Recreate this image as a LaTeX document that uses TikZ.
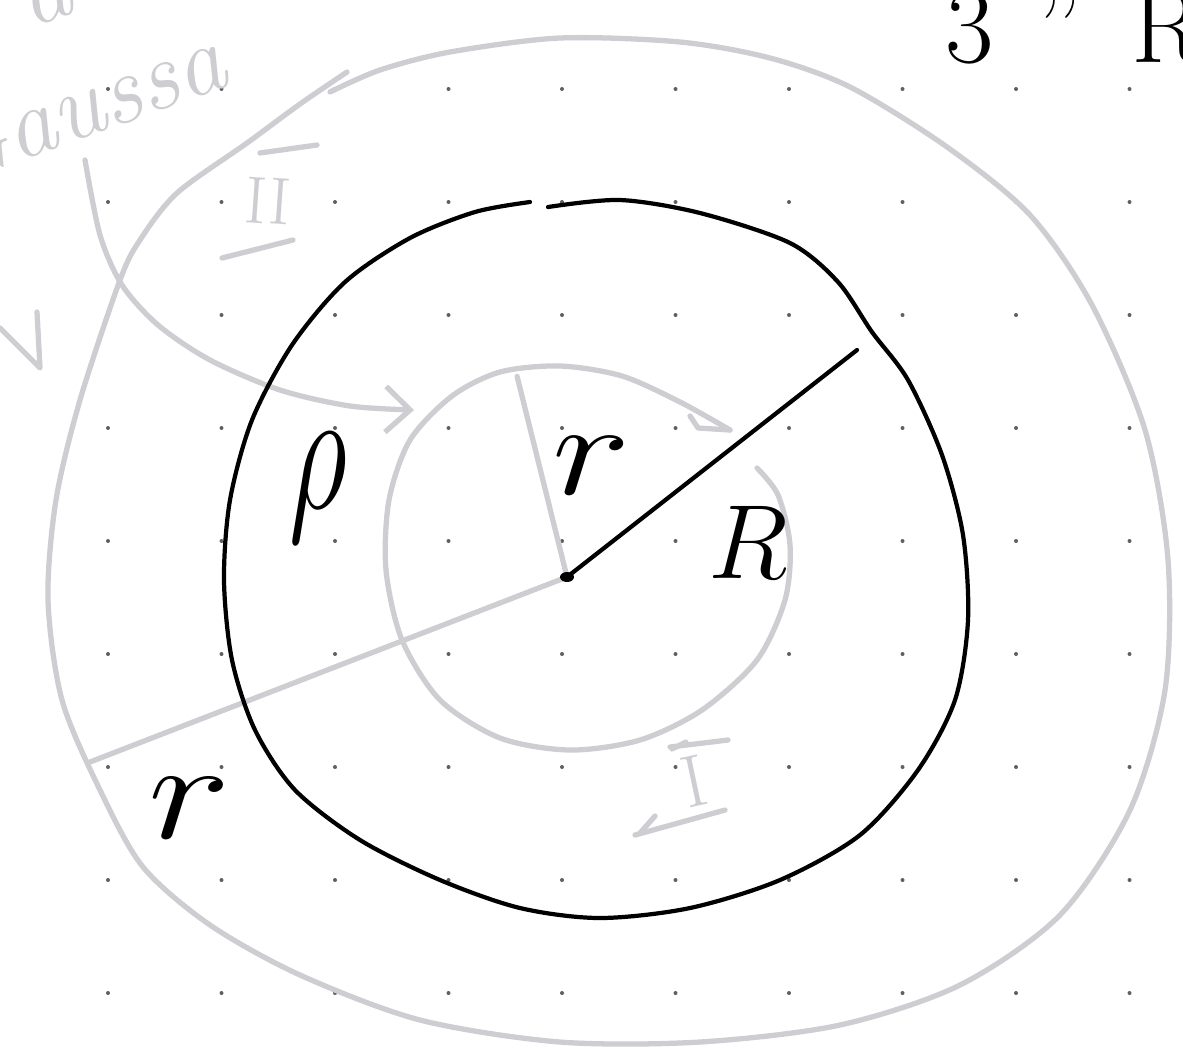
\documentclass[tikz,border=0pt]{standalone}
\usepackage{amsmath,amssymb}
\usepackage{fix-cm}
\usepackage{graphicx}
\usepackage{tikz}
\usetikzlibrary{arrows.meta,calc,positioning}
\definecolor{pencil}{RGB}{205,205,210}
\definecolor{griddot}{RGB}{95,95,95}
\tikzset{
  ink/.style={line width=1.2pt, black, line cap=round, line join=round},
  soft/.style={line width=1.5pt, pencil, line cap=round, line join=round},
  note/.style={inner sep=0pt},
}

\begin{document}
\begin{tikzpicture}[x=0.01cm,y=-0.01cm]
\useasboundingbox (0,0) rectangle (1183,1051);
\clip (0,0) rectangle (1183,1051);
% dot grid
\foreach \i in {0,...,9}
  \foreach \j in {0,...,8}
    \fill[griddot] (108+113.5*\i,89+113*\j) circle (2);
\coordinate (O) at (567,577);
\coordinate (Rend) at (857,350);
\coordinate (rtip) at (90,762);
\coordinate (rin) at (515,368);
% outer gaussian surface
\draw[soft] plot[smooth] coordinates {(347,72) (300,104) (247,143) (177,193) (140,240) (120,280) (80,400) (56,500) (48,600) (62,700) (100,790) (143,867) (210,925) (300,975) (420,1020) (560,1042) (700,1042) (840,1025) (960,985) (1060,915) (1130,810) (1165,690) (1168,560) (1145,430) (1092,305) (1030,215) (947,147) (850,87) (770,58) (680,42) (560,38) (450,52) (380,70) (330,92)};
% inner surface
\draw[soft] plot[smooth] coordinates {(757,468) (778,495) (790,545) (785,600) (757,660) (702,710) (640,740) (570,750) (500,738) (440,700) (402,640) (386,570) (389,500) (410,440) (452,396) (500,372) (560,366) (622,376) (680,402) (730,430)};
\draw[soft] (730,430) -- (698,428) -- (690,416);
\draw[soft] (O) -- ($(O)!0.96!(rin)$);
\draw[soft] (O) -- (rtip);
% arrow to the charge
\draw[soft, -{Straight Barb[length=7pt,width=13pt]}] plot[smooth] coordinates {(85,160) (100,235) (122,285) (158,325) (210,360) (280,390) (350,406) (414,410)};
\draw[soft] (0,328) -- (40,368) -- (37,312);
% region labels
\node[note, pencil, font=\fontsize{19}{19}\selectfont, rotate=-4] (II) at (268,201) {II};
\draw[soft] (260,153) -- (317,145);
\draw[soft] (222,258) -- (293,240);
\node[note, pencil, font=\fontsize{21}{21}\selectfont, rotate=12] (I) at (694,781) {I};
\draw[soft] (670,747) -- (728,740);
\draw[soft] (672,749) -- (686,742);
\draw[soft] (635,835) -- (725,810);
\draw[soft] (640,833) -- (655,816);
\node[note, pencil, font=\fontsize{28}{28}\selectfont\itshape, rotate=20, anchor=base east] (gauss) at (232,84) {Gaussa};
\node[note, pencil, font=\fontsize{28}{28}\selectfont\itshape, rotate=20] (topword) at (46,0) {a};
% charged ball
\draw[ink] plot[smooth] coordinates {(548,207) (620,200) (700,213) (790,243) (838,282) (872,332) (908,380) (942,455) (963,535) (968,620) (955,700) (918,770) (860,835) (780,880) (690,908) (600,918) (520,908) (440,880) (360,840) (295,790) (255,730) (232,660) (224,580) (230,500) (252,420) (292,345) (345,282) (410,238) (475,212) (530,202)};
\fill[black] (O) ellipse (7 and 5);
\draw[ink] (O) -- (Rend);
\node[note, font=\fontsize{30}{30}\selectfont] (Rlab) at (748,542) {$R$};
\node[note, font=\fontsize{50}{50}\selectfont] (rho) at (318,488) {\scalebox{0.65}[1]{$\rho$}};
\node[note, font=\fontsize{38}{38}\selectfont] (rsmall) at (592,466) {\scalebox{1.25}[1]{$r$}};
\node[note, font=\fontsize{40}{40}\selectfont] (rbig) at (190,808) {\scalebox{1.25}[1]{$r$}};
\node[note, font=\fontsize{30}{30}\selectfont, anchor=base west] (corner) at (945,62) {3\hspace{12pt}"\hspace{14pt}R};
\end{tikzpicture}
\end{document}
